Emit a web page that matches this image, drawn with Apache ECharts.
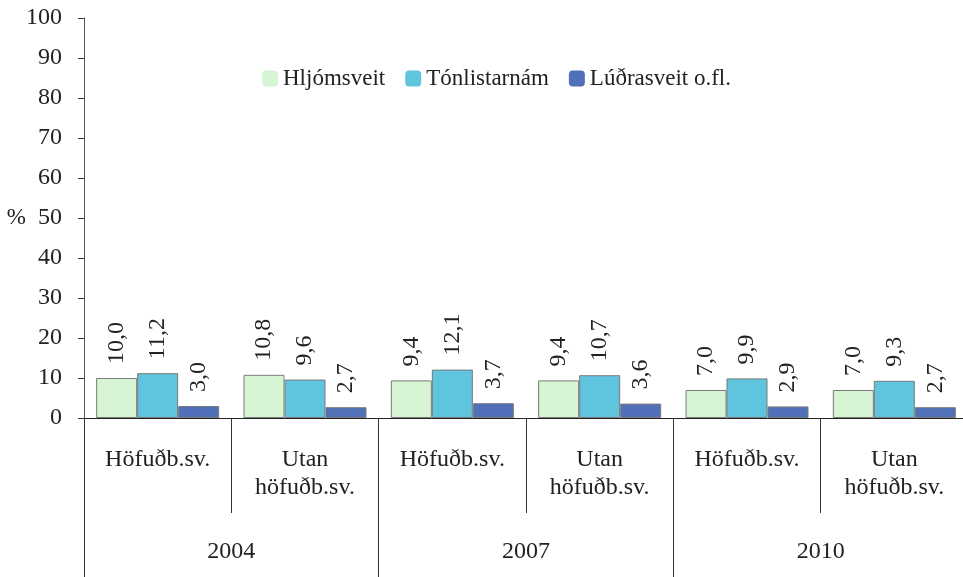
<!DOCTYPE html>
<html>
<head>
<meta charset="utf-8">
<script src="https://cdn.jsdelivr.net/npm/echarts@6/dist/echarts.min.js"></script>
<style>
  html, body { margin: 0; padding: 0; background: #fff; }
  #chart { width: 963px; height: 577px; }
</style>
</head>
<body>
<div id="chart"></div>
<script>
  // flokkar
  var areas = ['Höfuðb.sv.', 'Utan\nhöfuðb.sv.', 'Höfuðb.sv.', 'Utan\nhöfuðb.sv.', 'Höfuðb.sv.', 'Utan\nhöfuðb.sv.'];
  var years = ['2004', '2007', '2010'];
  var seriesNames = ['Hljómsveit', 'Tónlistarnám', 'Lúðrasveit o.fl.'];
  // gildi í %
  var hljomsveit = [10.0, 10.8, 9.4, 9.4, 7.0, 7.0];
  var tonlistarnam = [11.2, 9.6, 12.1, 10.7, 9.9, 9.3];
  var ludrasveit = [3.0, 2.7, 3.7, 3.6, 2.9, 2.7];
  var colors = ['#d7f5d5', '#5fc4dd', '#5071b9'];

  var font = "'Liberation Serif', 'Times New Roman', serif";
  var txt = '#222';

  function makeSeries(name, data, color) {
    return {
      name: name,
      type: 'bar',
      data: data,
      barWidth: 41,
      barGap: '0%',
      itemStyle: { color: color, borderColor: '#7a7a7a', borderWidth: 1 },
      label: {
        show: true,
        position: 'top',
        rotate: 90,
        align: 'left',
        verticalAlign: 'middle',
        distance: 14,
        fontFamily: font,
        fontSize: 24,
        color: txt,
        formatter: function (p) { return p.value.toFixed(1).replace('.', ','); }
      }
    };
  }

  var myChart = echarts.init(document.getElementById('chart'));
  myChart.setOption({
    animation: false,
    color: colors,
    textStyle: { fontFamily: font },
    legend: {
      left: 257,
      top: 62,
      icon: 'roundRect',
      itemWidth: 16,
      itemHeight: 16,
      itemGap: 20,
      itemStyle: { borderWidth: 0 },
      textStyle: { fontFamily: font, fontSize: 23, color: txt },
      data: seriesNames
    },
    grid: { left: 84, top: 18, width: 884, height: 400, outerBoundsMode: 'none' },
    xAxis: [
      {
        type: 'category',
        data: areas,
        axisLine: { lineStyle: { color: '#222', width: 1 } },
        axisTick: { show: true, interval: 0, length: 95, lineStyle: { color: '#333' } },
        axisLabel: {
          interval: 0,
          margin: 28,
          fontFamily: font,
          fontSize: 24,
          color: txt,
          lineHeight: 28,
          verticalAlign: 'top'
        }
      },
      {
        type: 'category',
        position: 'bottom',
        data: years,
        axisLine: { show: false },
        axisTick: { show: true, interval: 0, length: 165, lineStyle: { color: '#333' } },
        axisLabel: {
          margin: 122,
          fontFamily: font,
          fontSize: 24,
          color: txt
        }
      }
    ],
    yAxis: {
      type: 'value',
      min: 0,
      max: 100,
      interval: 10,
      name: '%',
      nameLocation: 'middle',
      nameRotate: 0,
      nameGap: 58,
      nameMoveOverlap: false,
      nameTextStyle: { fontFamily: font, fontSize: 23, color: txt },
      splitLine: { show: false },
      axisLine: { show: true, lineStyle: { color: '#555' } },
      axisTick: { show: true, length: 6, lineStyle: { color: '#333' } },
      axisLabel: { margin: 22, fontFamily: font, fontSize: 24, color: txt }
    },
    series: [
      makeSeries(seriesNames[0], hljomsveit, colors[0]),
      makeSeries(seriesNames[1], tonlistarnam, colors[1]),
      makeSeries(seriesNames[2], ludrasveit, colors[2])
    ]
  });
</script>
</body>
</html>
